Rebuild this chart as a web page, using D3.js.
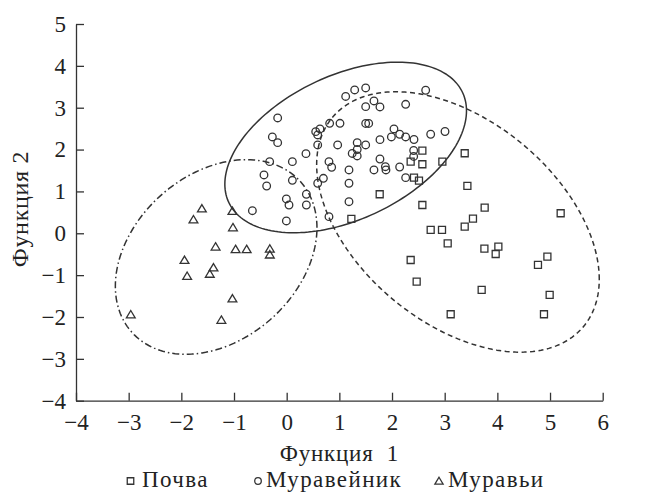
<!DOCTYPE html>
<html>
<head>
<meta charset="utf-8">
<script src="https://cdn.jsdelivr.net/npm/d3@7"></script>
<style>
  html, body { margin: 0; padding: 0; background: #fff; }
  svg { display: block; }
  text { font-family: "Liberation Serif", "Times New Roman", serif; fill: #222; }
</style>
</head>
<body>
<svg id="chart" width="651" height="492"></svg>
<script>
// Discriminant function scores (Функция 1, Функция 2) for three sample groups
const soilX = [2.576, 2.354, 2.576, 2.956, 3.380, 2.417, 2.512, 1.766, 3.431, 2.576, 1.228, 3.759, 3.537, 3.380, 2.734,
  2.949, 3.057, 5.202, 3.754, 4.019, 3.968, 2.354, 4.950, 4.771, 2.468, 3.702, 4.993, 3.114, 4.885];
const soilY = [1.974, 1.711, 1.649, 1.711, 1.912, 1.329, 1.257, 0.932, 1.131, 0.676, 0.342, 0.612, 0.349, 0.158, 0.079,
  0.079, -0.239, 0.478, -0.367, -0.320, -0.495, -0.638, -0.559, -0.757, -1.156, -1.354, -1.474, -1.935, -1.935];

const nestX = [-0.171, -0.272, -0.171, -0.323, 0.108, 0.366, -0.431, -0.380, 0.108, 0.374, -0.006, 0.044, 0.374, -0.651,
  -0.006, 0.551, 0.632, 0.589, 0.816, 1.012, 0.589, 0.968, 0.803, 0.854, 0.697, 0.589, 0.803, 1.120, 1.291, 1.500, 2.639,
  1.657, 1.500, 1.771, 2.259, 1.500, 1.557, 2.037, 2.145, 1.988, 2.259, 2.417, 2.734, 3.006, 1.771, 1.339, 1.500, 1.244,
  1.339, 2.411, 2.411, 1.771, 1.183, 1.657, 1.874, 1.885, 2.145, 2.259, 1.183, 1.183, 1.339];
const nestY = [2.755, 2.301, 2.165, 1.711, 1.711, 1.902, 1.393, 1.130, 1.266, 0.932, 0.820, 0.676, 0.676, 0.540,
  0.294, 2.428, 2.492, 2.349, 2.628, 2.628, 2.110, 2.110, 1.711, 1.577, 1.314, 1.195, 0.397, 3.269, 3.424, 3.472, 3.417,
  3.161, 3.025, 3.018, 3.082, 2.624, 2.624, 2.492, 2.366, 2.301, 2.301, 2.241, 2.366, 2.432, 2.237, 2.165, 2.110, 1.907,
  1.847, 1.978, 1.835, 1.775, 1.513, 1.513, 1.591, 1.513, 1.584, 1.329, 1.195, 0.755, 2.002];

const antX = [-1.61, -1.77, -1.03, -1.02, -1.35, -0.97, -0.76, -0.32, -0.32, -1.94, -1.39, -1.46, -1.89, -1.03, -2.96, -1.24];
const antY = [0.59, 0.33, 0.53, 0.14, -0.32, -0.38, -0.38, -0.37, -0.51, -0.64, -0.82, -0.97, -1.02, -1.56, -1.94, -2.07];

// Scatter ellipses per group: centre, horizontal / vertical half-extent, correlation
const groups = ["Почва", "Муравейник", "Муравьи"];
const ellCX = [3.252, 1.120, -1.339];
const ellCY = [0.270, 2.050, -0.566];
const ellHX = [2.683, 2.294, 1.914];
const ellHY = [3.111, 2.038, 2.325];
const ellR  = [-0.44, 0.43, 0.30];

const xTicks = [-4, -3, -2, -1, 0, 1, 2, 3, 4, 5, 6];
const yTicks = [-4, -3, -2, -1, 0, 1, 2, 3, 4, 5];
const xTitle = "Функция  1";
const yTitle = "Функция 2";

const ink = "#333";
const svg = d3.select("#chart");

const x = d3.scaleLinear().domain([-4, 6]).range([76, 602.7]);
const y = d3.scaleLinear().domain([-4, 5]).range([400.7, 24]);

const fmt = v => (v < 0 ? "\u2212" + Math.abs(v) : String(v));

// axes with inward ticks
const gx = svg.append("g").attr("transform", `translate(0,${y(-4)})`)
  .call(d3.axisBottom(x).tickValues(xTicks).tickSize(-8).tickSizeOuter(0).tickPadding(13).tickFormat(fmt));
const gy = svg.append("g").attr("transform", `translate(${x(-4)},0)`)
  .call(d3.axisLeft(y).tickValues(yTicks).tickSize(-8).tickSizeOuter(0).tickPadding(10).tickFormat(fmt));
[gx, gy].forEach(g => {
  g.attr("font-family", null);
  g.selectAll("path.domain, line").attr("stroke", ink).attr("stroke-width", 1.3);
  g.selectAll("text").attr("font-size", 23).attr("fill", "#222");
});

// axis titles
svg.append("text")
  .attr("x", (x(-4) + x(6)) / 2).attr("y", 461)
  .attr("text-anchor", "middle").attr("font-size", 23)
  .attr("letter-spacing", 0.8)
  .style("white-space", "pre")
  .text(xTitle);
svg.append("text")
  .attr("transform", `translate(28,209) rotate(-90)`)
  .attr("text-anchor", "middle").attr("font-size", 24)
  .attr("letter-spacing", 0.7)
  .text(yTitle);

// ellipses
const dashes = ["5,3.5", null, "7,3,1.5,3"];
const line = d3.line().x(d => x(d[0])).y(d => y(d[1])).curve(d3.curveLinearClosed);
groups.forEach((g, i) => {
  const pts = d3.range(0, 360, 2).map(a => {
    const t = a * Math.PI / 180;
    return [ellCX[i] + ellHX[i] * Math.cos(t),
            ellCY[i] + ellHY[i] * (ellR[i] * Math.cos(t) + Math.sqrt(1 - ellR[i] * ellR[i]) * Math.sin(t))];
  });
  svg.append("path").attr("d", line(pts))
    .attr("fill", "none").attr("stroke", ink).attr("stroke-width", 1.5)
    .attr("stroke-dasharray", dashes[i]);
});

// marker shapes
const squarePath = s => `M${-s / 2},${-s / 2}h${s}v${s}h${-s}Z`;
const triPath = s => `M0,${-s * 0.5}L${s * 0.55},${s * 0.42}L${-s * 0.55},${s * 0.42}Z`;

const markStyle = sel => sel.attr("fill", "none").attr("stroke", ink).attr("stroke-width", 1.3);

svg.append("g").selectAll("path").data(d3.zip(soilX, soilY)).join("path")
  .attr("d", squarePath(7)).attr("transform", d => `translate(${x(d[0])},${y(d[1])})`).call(markStyle);
svg.append("g").selectAll("circle").data(d3.zip(nestX, nestY)).join("circle")
  .attr("cx", d => x(d[0])).attr("cy", d => y(d[1])).attr("r", 3.8).call(markStyle);
svg.append("g").selectAll("path").data(d3.zip(antX, antY)).join("path")
  .attr("d", triPath(8)).attr("transform", d => `translate(${x(d[0])},${y(d[1])})`).call(markStyle);

// legend
const legSym = [130.5, 258, 439];
const legTxt = [142, 266, 448];
const legend = svg.append("g");
groups.forEach((g, i) => {
  const cx = legSym[i], cy = 481;
  if (i === 0) legend.append("path").attr("d", squarePath(6.5)).attr("transform", `translate(${cx},${cy})`).call(markStyle);
  if (i === 1) legend.append("circle").attr("cx", cx).attr("cy", cy).attr("r", 3.3).call(markStyle);
  if (i === 2) legend.append("path").attr("d", triPath(7.5)).attr("transform", `translate(${cx},${cy})`).call(markStyle);
  legend.append("text").attr("x", legTxt[i]).attr("y", 487).attr("font-size", 23)
    .attr("letter-spacing", 1.4).text(g);
});
</script>
</body>
</html>
